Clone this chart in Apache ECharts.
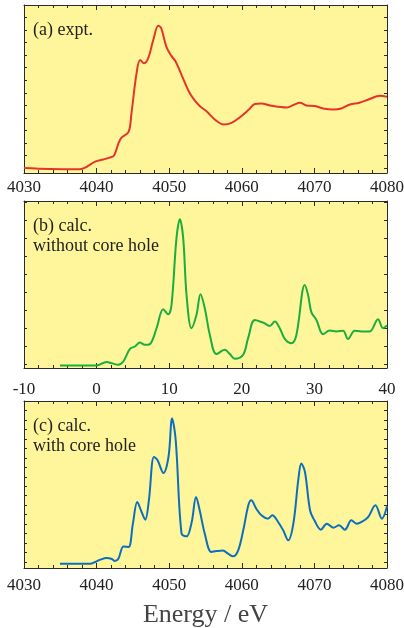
<!DOCTYPE html>
<html><head><meta charset="utf-8">
<script src="https://cdn.jsdelivr.net/npm/echarts@6/dist/echarts.min.js"></script>
<style>html,body{margin:0;padding:0;background:#fff}#c{width:404px;height:628px}</style>
</head><body><div id="c"></div>
<script>
// Panel (a) experimental spectrum
const energyA = [4030, 4033.6, 4037.7, 4038.6, 4039.8, 4040.9, 4041.8, 4042.4, 4043.0, 4043.4, 4044.4, 4044.8, 4045.5, 4046.0, 4046.5, 4047.1, 4047.8, 4048.5, 4048.9, 4049.6, 4050.3, 4050.9, 4051.7, 4052.6, 4053.3, 4054.2, 4055.1, 4056.5, 4057.5, 4058.6, 4059.7, 4060.9, 4061.8, 4062.7, 4063.9, 4066.2, 4067.1, 4068.0, 4068.9, 4070.1, 4071.2, 4072.6, 4073.7, 4074.9, 4076.2, 4077.6, 4079.0, 4080];
const intensityA = [0.0, -0.08, -0.1, 0.08, 0.51, 0.67, 0.83, 1.0, 1.95, 2.4, 2.88, 4.35, 7.55, 8.62, 8.35, 8.75, 10.2, 11.34, 11.15, 9.68, 8.94, 8.48, 7.42, 6.22, 5.55, 4.94, 4.54, 3.76, 3.47, 3.6, 4.03, 4.62, 5.1, 5.15, 4.99, 4.83, 5.02, 5.2, 4.99, 4.94, 4.75, 4.67, 4.75, 5.07, 5.2, 5.5, 5.76, 5.68];
// Panel (b) calc. without core hole (relative energy)
const energyB = [-5.05, 0.0, 1.38, 2.06, 2.98, 3.67, 4.59, 5.28, 5.96, 6.65, 7.34, 8.26, 9.17, 9.86, 10.32, 11.0, 11.47, 11.93, 12.39, 13.07, 13.76, 14.31, 14.9, 15.6, 16.5, 17.66, 18.35, 19.04, 20.18, 20.87, 21.79, 22.94, 23.85, 24.54, 25.23, 25.92, 26.83, 27.52, 28.67, 29.13, 29.59, 30.28, 31.19, 32.1, 33.03, 33.95, 34.63, 35.55, 36.47, 37.61, 38.76, 39.45, 40];
const intensityB = [-0.04, -0.04, 0.15, 0.09, 0.0, 0.18, 0.88, 1.01, 1.23, 1.1, 1.14, 2.02, 3.07, 2.79, 3.31, 6.99, 8.05, 6.99, 3.86, 2.02, 2.76, 3.9, 3.13, 1.65, 0.59, 0.83, 0.59, 0.33, 0.55, 1.47, 2.48, 2.33, 2.15, 2.39, 2.02, 1.43, 1.19, 1.65, 4.41, 3.86, 2.9, 2.48, 1.69, 1.89, 1.84, 1.88, 1.42, 1.88, 1.84, 1.84, 2.52, 2.02, 2.17];
// Panel (c) calc. with core hole
const energyC = [4034.95, 4039.1, 4039.8, 4040.5, 4041.4, 4042.1, 4042.5, 4043.0, 4043.7, 4044.4, 4045.0, 4045.6, 4046.2, 4046.7, 4047.2, 4047.9, 4048.4, 4049.2, 4049.9, 4050.4, 4050.9, 4051.7, 4052.4, 4053.1, 4053.7, 4054.2, 4054.9, 4055.8, 4056.5, 4057.4, 4058.1, 4058.8, 4059.5, 4060.2, 4060.9, 4061.3, 4062.0, 4062.7, 4063.6, 4064.2, 4065.0, 4065.7, 4066.4, 4067.1, 4067.8, 4068.2, 4068.7, 4069.4, 4070.0, 4070.9, 4071.7, 4072.6, 4073.4, 4074.2, 4075.1, 4075.8, 4076.5, 4077.4, 4078.4, 4079.3, 4080];
const intensityC = [-0.18, -0.18, 0.0, 0.25, 0.42, 0.32, 0.11, 0.35, 1.65, 1.58, 4.05, 6.34, 5.28, 4.47, 6.51, 11.09, 10.74, 9.4, 11.09, 15.14, 12.85, 2.99, 2.71, 4.23, 6.87, 5.46, 2.99, 1.06, 1.16, 1.23, 0.88, 0.6, 1.23, 3.35, 5.99, 6.51, 5.63, 4.93, 4.58, 4.93, 4.23, 3.35, 2.29, 4.05, 8.8, 10.39, 9.51, 5.46, 4.4, 3.42, 4.05, 3.63, 3.87, 3.42, 4.4, 4.05, 4.23, 4.75, 5.99, 4.58, 5.88];

const panelLabels = ['(a) expt.', '(b) calc.\nwithout core hole', '(c) calc.\nwith core hole'];
const xRanges = [[4030, 4080], [-10, 40], [4030, 4080]];
const yRanges = [[-0.4, 13.0], [-0.18, 9.06], [-0.63, 17.0]];
const yTickCounts = [13, 9, 17];
const axisName = 'Energy / eV';

const FONT = '"Liberation Serif", "DejaVu Serif", serif';
const LINE = '#2a2a2a';
const tops = [5, 201, 401];
const heights = [168, 167, 167];
const labelMargins = [6, 13, 9];
const colors = ['#e5352a', '#1aae3c', '#0b6fbf'];
const dataSets = [[energyA, intensityA], [energyB, intensityB], [energyC, intensityC]];

const grid = [], xAxis = [], yAxis = [], series = [];
for (let i = 0; i < 3; i++) {
  grid.push({left: 24, width: 363, top: tops[i], height: heights[i], show: true,
    backgroundColor: '#fff59b', borderWidth: 0, containLabel: false, outerBoundsMode: 'none'});
  const ticks = [];
  for (let k = 0; k <= yTickCounts[i]; k++) ticks.push(k);
  const xCommon = {type: 'value', gridIndex: i, min: xRanges[i][0], max: xRanges[i][1], interval: 10,
    axisLine: {show: true, onZero: false, lineStyle: {color: LINE, width: 1}},
    axisTick: {show: true, inside: true, length: 5, lineStyle: {color: LINE}},
    minorTick: {show: true, splitNumber: 5, length: 3, lineStyle: {color: LINE}},
    splitLine: {show: false}};
  xAxis.push(Object.assign({}, xCommon, {position: 'bottom',
    axisLabel: {show: true, margin: labelMargins[i], fontFamily: FONT, fontSize: 17, color: '#222',
      formatter: v => String(v)},
    name: i === 2 ? axisName : '', nameLocation: 'middle', nameGap: 34,
    nameTextStyle: {fontFamily: FONT, fontSize: 26, color: '#444'}}));
  xAxis.push(Object.assign({}, xCommon, {position: 'top', axisLabel: {show: false}}));
  const yCommon = {type: 'value', gridIndex: i, min: yRanges[i][0], max: yRanges[i][1],
    axisLine: {show: true, onZero: false, lineStyle: {color: LINE, width: 1}},
    axisTick: {show: true, inside: true, length: 3, customValues: ticks, lineStyle: {color: LINE}},
    axisLabel: {show: false}, splitLine: {show: false}};
  yAxis.push(Object.assign({}, yCommon, {position: 'left'}));
  yAxis.push(Object.assign({}, yCommon, {position: 'right'}));
  const xs = dataSets[i][0], ys = dataSets[i][1];
  series.push({type: 'line', xAxisIndex: 2 * i, yAxisIndex: 2 * i, showSymbol: false, smooth: 0.35,
    data: xs.map((x, j) => [x, ys[j]]), lineStyle: {color: colors[i], width: 2}, z: 3});
}

const graphic = panelLabels.map((t, i) => ({type: 'text', left: 33, top: tops[i] + 15,
  style: {text: t, font: '18px ' + FONT, fill: '#222', lineHeight: 20}, z: 10}));

const chart = echarts.init(document.getElementById('c'), null, {renderer: 'canvas'});
chart.setOption({animation: false, grid, xAxis, yAxis, series, graphic});
</script></body></html>
